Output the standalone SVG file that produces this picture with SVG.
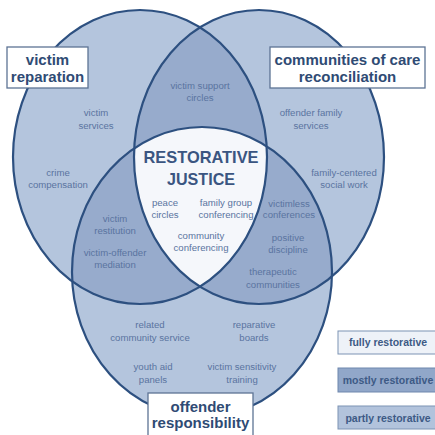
<svg xmlns="http://www.w3.org/2000/svg" width="435" height="435" viewBox="0 0 435 435">
<style>
.one{fill:#b4c5dd}
.two{fill:#97abcc}
.three{fill:#f5f7fb}
.ring{fill:none;stroke:#2d5080;stroke-width:2.2}
.box{fill:#ffffff;stroke:#5d7394;stroke-width:1.3}
.ttl{font-family:"Liberation Sans",Arial,sans-serif;font-weight:bold;font-size:15px;fill:#2f4b74;text-anchor:middle}
.lbl{font-family:"Liberation Sans",Arial,sans-serif;font-size:9.6px;fill:#5a74a0;text-anchor:middle}
.rj{font-family:"Liberation Sans",Arial,sans-serif;font-weight:bold;font-size:17px;fill:#3a5581;text-anchor:middle}
.leg{font-family:"Liberation Sans",Arial,sans-serif;font-weight:bold;font-size:10.5px;fill:#3d5a85;text-anchor:middle}
</style>
<defs>
<clipPath id="cL"><ellipse cx="140" cy="157" rx="127" ry="147"/></clipPath>
<clipPath id="cR"><ellipse cx="259" cy="157" rx="125" ry="147"/></clipPath>
<clipPath id="cB"><ellipse cx="202" cy="272" rx="130" ry="145"/></clipPath>
</defs>
<rect width="435" height="435" fill="#ffffff"/>
<g id="fills">
<ellipse class="one" cx="140" cy="157" rx="127" ry="147"/>
<ellipse class="one" cx="259" cy="157" rx="125" ry="147"/>
<ellipse class="one" cx="202" cy="272" rx="130" ry="145"/>
<g clip-path="url(#cL)"><ellipse class="two" cx="259" cy="157" rx="125" ry="147"/><ellipse class="two" cx="202" cy="272" rx="130" ry="145"/></g>
<g clip-path="url(#cR)"><ellipse class="two" cx="202" cy="272" rx="130" ry="145"/></g>
<g clip-path="url(#cL)"><g clip-path="url(#cR)"><ellipse class="three" cx="202" cy="272" rx="130" ry="145"/></g></g>
</g>
<g id="connectors">
<ellipse class="ring" cx="140" cy="157" rx="127" ry="147"/>
<ellipse class="ring" cx="259" cy="157" rx="125" ry="147"/>
<ellipse class="ring" cx="202" cy="272" rx="130" ry="145"/>
</g>
<g id="victim-reparation">
<rect class="box" x="7" y="47" width="81" height="41"/>
<text class="ttl" x="47.5" y="65" font-size="15.5">victim</text>
<text class="ttl" x="47.5" y="82" font-size="15.5">reparation</text>
</g>
<g id="communities-of-care">
<rect class="box" x="270" y="47" width="155" height="41"/>
<text class="ttl" x="347.5" y="65">communities of care</text>
<text class="ttl" x="347.5" y="82">reconciliation</text>
</g>
<g id="offender-responsibility">
<rect class="box" x="148" y="393" width="105" height="44"/>
<text class="ttl" x="200.5" y="412">offender</text>
<text class="ttl" x="200.5" y="428">responsibility</text>
</g>
<g id="restorative-justice">
<text class="rj" x="201" y="163" textLength="115" lengthAdjust="spacingAndGlyphs">RESTORATIVE</text>
<text class="rj" x="201" y="185" textLength="68" lengthAdjust="spacingAndGlyphs">JUSTICE</text>
<text class="lbl" x="165" y="206">peace</text>
<text class="lbl" x="165" y="218">circles</text>
<text class="lbl" x="226" y="206">family group</text>
<text class="lbl" x="226" y="218">conferencing</text>
<text class="lbl" x="201" y="239">community</text>
<text class="lbl" x="201" y="251">conferencing</text>
</g>
<g id="victim-support-circles">
<text class="lbl" x="200" y="89">victim support</text>
<text class="lbl" x="200" y="101">circles</text>
</g>
<g id="victim-services">
<text class="lbl" x="96" y="116">victim</text>
<text class="lbl" x="96" y="129">services</text>
</g>
<g id="crime-compensation">
<text class="lbl" x="58" y="176">crime</text>
<text class="lbl" x="58" y="188">compensation</text>
</g>
<g id="victim-restitution">
<text class="lbl" x="115" y="222">victim</text>
<text class="lbl" x="115" y="234">restitution</text>
</g>
<g id="victim-offender-mediation">
<text class="lbl" x="115" y="256">victim-offender</text>
<text class="lbl" x="115" y="268">mediation</text>
</g>
<g id="offender-family-services">
<text class="lbl" x="311" y="116">offender family</text>
<text class="lbl" x="311" y="129">services</text>
</g>
<g id="family-centered-social-work">
<text class="lbl" x="344" y="176">family-centered</text>
<text class="lbl" x="344" y="188">social work</text>
</g>
<g id="victimless-conferences">
<text class="lbl" x="289" y="207">victimless</text>
<text class="lbl" x="289" y="218">conferences</text>
</g>
<g id="positive-discipline">
<text class="lbl" x="288" y="241">positive</text>
<text class="lbl" x="288" y="253">discipline</text>
</g>
<g id="therapeutic-communities">
<text class="lbl" x="273" y="275">therapeutic</text>
<text class="lbl" x="273" y="288">communities</text>
</g>
<g id="related-community-service">
<text class="lbl" x="150" y="328">related</text>
<text class="lbl" x="150" y="341">community service</text>
</g>
<g id="reparative-boards">
<text class="lbl" x="254" y="328">reparative</text>
<text class="lbl" x="254" y="341">boards</text>
</g>
<g id="youth-aid-panels">
<text class="lbl" x="153" y="370">youth aid</text>
<text class="lbl" x="153" y="383">panels</text>
</g>
<g id="victim-sensitivity-training">
<text class="lbl" x="242" y="370">victim sensitivity</text>
<text class="lbl" x="242" y="383">training</text>
</g>
<g id="legend-fully">
<rect x="338" y="331" width="100" height="23" fill="#eef2f8" stroke="#7d93b4" stroke-width="1"/>
<text class="leg" x="388" y="346">fully restorative</text>
</g>
<g id="legend-mostly">
<rect x="338" y="368" width="100" height="24" fill="#91a7c9" stroke="#6f87ad" stroke-width="1"/>
<text class="leg" x="388" y="384">mostly restorative</text>
</g>
<g id="legend-partly">
<rect x="338" y="406" width="100" height="23" fill="#b2c3dc" stroke="#7d93b4" stroke-width="1"/>
<text class="leg" x="388" y="422">partly restorative</text>
</g>
</svg>
